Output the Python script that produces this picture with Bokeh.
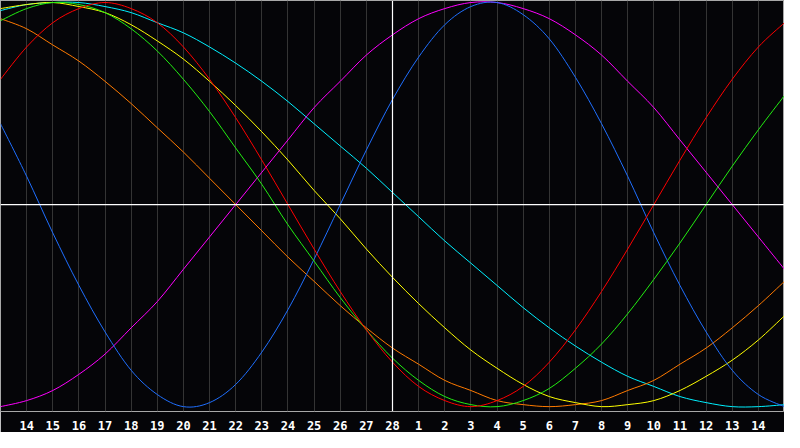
from bokeh.embed import file_html
from bokeh.models import FixedTicker, Span
from bokeh.plotting import figure
from bokeh.resources import INLINE

# day of month at each grid step (13 Feb .. 15 Mar), "28" is today
day_labels = ["13", "14", "15", "16", "17", "18", "19", "20", "21", "22",
              "23", "24", "25", "26", "27", "28", "1", "2", "3", "4",
              "5", "6", "7", "8", "9", "10", "11", "12", "13", "14", "15"]
today = "28"

# cycle values read per day, -1 .. 1
blue = [0.40, 0.14, -0.14, -0.40, -0.63, -0.82, -0.94, -1.00, -0.98, -0.89,
        -0.73, -0.52, -0.27, 0.00, 0.27, 0.52, 0.73, 0.89, 0.98, 1.00,
        0.94, 0.82, 0.63, 0.40, 0.14, -0.14, -0.40, -0.63, -0.82, -0.94, -1.00]
red = [0.62, 0.78, 0.90, 0.97, 1.00, 0.97, 0.90, 0.78, 0.62, 0.43,
       0.22, 0.00, -0.22, -0.43, -0.62, -0.78, -0.90, -0.97, -1.00, -0.97,
       -0.90, -0.78, -0.62, -0.43, -0.22, 0.00, 0.22, 0.43, 0.62, 0.78, 0.90]
green = [0.91, 0.97, 1.00, 0.99, 0.95, 0.87, 0.76, 0.62, 0.46, 0.28,
         0.10, -0.10, -0.28, -0.46, -0.62, -0.76, -0.87, -0.95, -0.99, -1.00,
         -0.97, -0.91, -0.81, -0.69, -0.54, -0.37, -0.19, 0.00, 0.19, 0.37, 0.54]
magenta = [-1.00, -0.97, -0.92, -0.84, -0.74, -0.61, -0.48, -0.32, -0.16, 0.00,
           0.16, 0.32, 0.48, 0.61, 0.74, 0.84, 0.92, 0.97, 1.00, 1.00,
           0.97, 0.92, 0.84, 0.74, 0.61, 0.48, 0.32, 0.16, 0.00, -0.16, -0.32]
yellow = [0.97, 0.99, 1.00, 0.98, 0.95, 0.89, 0.81, 0.72, 0.61, 0.49,
          0.36, 0.22, 0.07, -0.07, -0.22, -0.36, -0.49, -0.61, -0.72, -0.81,
          -0.89, -0.95, -0.98, -1.00, -0.99, -0.97, -0.92, -0.85, -0.77, -0.67, -0.55]
orange = [0.92, 0.87, 0.79, 0.71, 0.61, 0.50, 0.38, 0.26, 0.13, 0.00,
          -0.13, -0.26, -0.38, -0.50, -0.61, -0.71, -0.79, -0.87, -0.92, -0.97,
          -0.99, -1.00, -0.99, -0.97, -0.92, -0.87, -0.79, -0.71, -0.61, -0.50, -0.38]
cyan = [0.96, 0.99, 1.00, 1.00, 0.98, 0.95, 0.90, 0.85, 0.78, 0.70,
        0.61, 0.51, 0.40, 0.29, 0.18, 0.06, -0.06, -0.18, -0.29, -0.40,
        -0.51, -0.61, -0.70, -0.78, -0.85, -0.90, -0.95, -0.98, -1.00, -1.00, -0.99]

x = list(range(len(day_labels)))


def smooth_line(p, xs, ys, color):
    # catmull-rom through the day values, drawn as bezier pieces
    n = len(xs)
    x0, y0, x1, y1, cx0, cy0, cx1, cy1 = [], [], [], [], [], [], [], []
    for i in range(n - 1):
        a = max(i - 1, 0)
        b = min(i + 2, n - 1)
        x0.append(xs[i]); y0.append(ys[i])
        x1.append(xs[i + 1]); y1.append(ys[i + 1])
        cx0.append(xs[i] + (xs[i + 1] - xs[a]) / 6)
        cy0.append(ys[i] + (ys[i + 1] - ys[a]) / 6)
        cx1.append(xs[i + 1] - (xs[b] - xs[i]) / 6)
        cy1.append(ys[i + 1] - (ys[b] - ys[i]) / 6)
    p.bezier(x0=x0, y0=y0, x1=x1, y1=y1, cx0=cx0, cy0=cy0, cx1=cx1, cy1=cy1,
             line_color=color, line_width=1)


p = figure(width=784, height=432, x_range=(0, len(day_labels) - 1),
           y_range=(-1.024, 1.01), output_backend="svg",
           toolbar_location=None, min_border=0, min_border_bottom=20)

p.background_fill_color = "#050508"
p.border_fill_color = "#050508"
p.outline_line_color = "#a8a8a8"

# grid on every day, labels only for inner ones
inner = x[1:-1]
p.xaxis.ticker = FixedTicker(ticks=inner)
p.xaxis.major_label_overrides = {i: day_labels[i] for i in inner}
p.xaxis.axis_line_color = None
p.xaxis.major_tick_line_color = None
p.xaxis.minor_tick_line_color = None
p.xaxis.major_label_standoff = 3
p.xaxis.major_label_text_color = "white"
p.xaxis.major_label_text_font = "DejaVu Sans Mono"
p.xaxis.major_label_text_font_style = "bold"
p.xaxis.major_label_text_font_size = "12px"
p.yaxis.visible = False

p.xgrid.grid_line_color = "#343434"
p.ygrid.grid_line_color = None

for vals, col in [(cyan, "#00f0ff"), (orange, "#ff7a00"), (yellow, "#ffff00"),
                  (magenta, "#ff00ff"), (blue, "#1f6fff"), (green, "#22ee11"),
                  (red, "#ff0000")]:
    smooth_line(p, x, vals, col)

p.add_layout(Span(location=0, dimension="width", line_color="white", line_width=1.2))
p.add_layout(Span(location=day_labels.index(today), dimension="height",
                  line_color="white", line_width=1.2))

open("out.html", "w").write(file_html(p, INLINE))
